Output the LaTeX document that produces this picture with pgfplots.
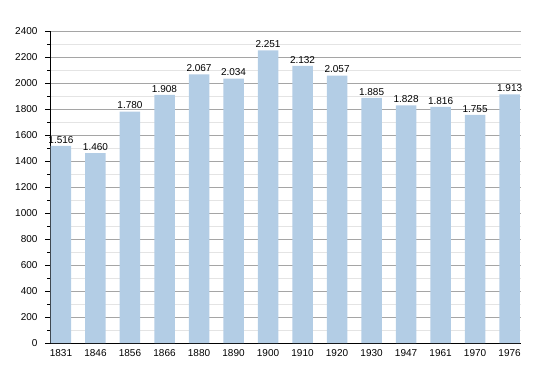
\documentclass[border=0pt]{standalone}
\usepackage{pgfplots}
\pgfplotsset{compat=1.18}
\usepackage{fontspec}
\setmainfont{Liberation Sans}
\definecolor{barblue}{RGB}{179,205,229}
\definecolor{majgrid}{RGB}{165,165,165}
\definecolor{mingrid}{RGB}{228,228,228}
\begin{document}
\begin{tikzpicture}[x=1pt,y=1pt]
\useasboundingbox (0,0) rectangle (550,373);
\begin{axis}[
  at={(50pt,30pt)}, anchor=south west,
  scale only axis, width=471pt, height=312pt,
  ymin=0, ymax=2400, xmin=-0.318, xmax=13.33,
  ytick={0,200,...,2400}, minor y tick num=1,
  xtick={0,...,13},
  xticklabels={1831,1846,1856,1866,1880,1890,1900,1910,1920,1930,1947,1961,1970,1976},
  axis x line*=bottom, axis y line*=left,
  axis line style={-, black, line width=0.8pt},
  ymajorgrids, yminorgrids,
  major grid style={majgrid, line width=0.6pt},
  minor grid style={mingrid, line width=0.6pt},
  tick align=outside,
  major tick length=5pt, minor tick length=3pt,
  x tick style={draw=none},
  y tick style={black, line width=0.6pt},
  /pgf/number format/assume math mode=true,
  /pgf/number format/1000 sep={},
  ticklabel style={font=\fontsize{10}{12}\selectfont},
  yticklabel style={xshift=-4pt},
  xticklabel style={yshift=2pt},
  ybar, bar width=20.5pt,
  point meta=explicit symbolic,
  nodes near coords,
  every node near coord/.style={font=\fontsize{10}{12}\selectfont, black, inner sep=2.5pt},
]
\addplot[fill=barblue, draw=none] table[x=x, y=y, meta=lab] {
x y lab
0 1516 1.516
1 1460 1.460
2 1780 1.780
3 1908 1.908
4 2067 2.067
5 2034 2.034
6 2251 2.251
7 2132 2.132
8 2057 2.057
9 1885 1.885
10 1828 1.828
11 1816 1.816
12 1755 1.755
13 1913 1.913
};
\end{axis}
\end{tikzpicture}
\end{document}
